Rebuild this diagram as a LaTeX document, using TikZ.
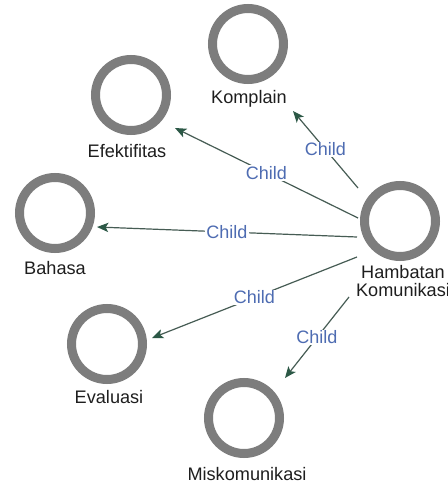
\documentclass[tikz,border=0pt]{standalone}
\usepackage{fontspec}
\setmainfont{Liberation Sans}
\usetikzlibrary{arrows.meta,calc}
\definecolor{ringgray}{RGB}{125,125,125}
\definecolor{edgecol}{RGB}{70,92,84}
\definecolor{arrowcol}{RGB}{44,88,70}
\definecolor{childblue}{RGB}{78,108,178}
\definecolor{txt}{RGB}{30,30,30}
\tikzset{
  ring/.style={circle,draw=ringgray,line width=6.75pt,minimum size=53.25pt,inner sep=0pt,fill=white},
  lbl/.style={text=txt,font=\fontsize{13.6}{14}\selectfont,inner sep=0pt,align=center},
  rel/.style={draw=edgecol,line width=0.9pt,-{Stealth[length=8.5pt,width=7pt,inset=2pt,color=arrowcol,fill=arrowcol]}},
  chl/.style={midway,fill=white,inner sep=1pt,text=childblue,font=\fontsize{13.5}{14}\selectfont}
}
\begin{document}
\begin{tikzpicture}[x=0.75pt,y=-0.75pt]
\useasboundingbox[fill=white] (0,0) rectangle (448,485);
% nodes
\node[ring] (komp) at (248,44) {};
\node[lbl] (lkomp) at (249,99) {Komplain};
\node[ring] (efek) at (131,95) {};
\node[lbl] (lefek) at (127,151) {Efektifitas};
\node[ring] (bah) at (55,213) {};
\node[lbl] (lbah) at (55,268) {Bahasa};
\node[ring] (eval) at (107,344) {};
\node[lbl] (leval) at (109,397) {Evaluasi};
\node[ring] (misk) at (244,418) {};
\node[lbl] (lmisk) at (247,474) {Miskomunikasi};
\node[ring] (hamb) at (400,221) {};
\node[lbl] (lhamb) at (403,281) {Hambatan\\Komunikasi};
% edges
\draw[rel] ($(hamb)+(-42,-33)$) -- node[chl]{Child} ($(komp)+(45,67)$);
\draw[rel] ($(hamb)+(-42,-3)$) -- node[chl]{Child} ($(efek)+(44,33)$);
\draw[rel] ($(hamb)+(-43,16)$) -- node[chl]{Child} ($(bah)+(42,14)$);
\draw[rel] ($(hamb)+(-43,36)$) -- node[chl]{Child} ($(eval)+(45,-6)$);
\draw[rel] ($(hamb)+(-51,76)$) -- node[chl]{Child} ($(misk)+(41,-40)$);
\end{tikzpicture}
\end{document}
